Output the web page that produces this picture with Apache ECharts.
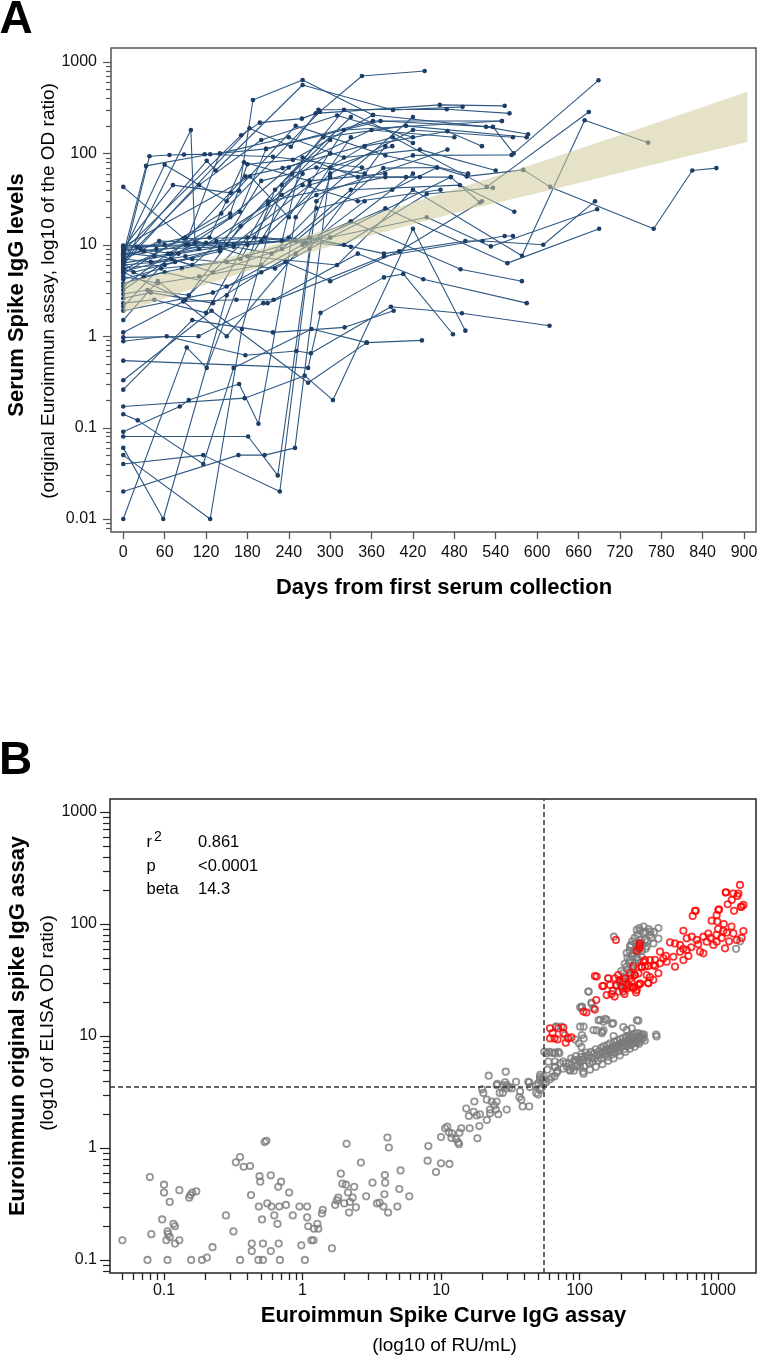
<!DOCTYPE html>
<html><head><meta charset="utf-8">
<script src="https://cdn.jsdelivr.net/npm/echarts@6/dist/echarts.min.js"></script>
<style>html,body{margin:0;padding:0;background:#fff}#c{width:758px;height:1361px}</style>
</head><body><div id="c"></div>
<script>
// ---------- Panel A data ----------
const dayTicks = [0,60,120,180,240,300,360,420,480,540,600,660,720,780,840,900];
const yTicksA = [0.01,0.1,1,10,100,1000];
const subjects = [
 [[0,43],[88,11.7],[205,12],[330,9.5]],
 [[0,7.8],[33,73],[126,98],[207,112],[362,226],[549,226]],
 [[0,6.6],[38,93],[67,96],[88,97],[118,98],[217,92],[346,70]],
 [[0,5.9],[98,180],[104,10.5],[180,10],[300,12],[475,55]],
 [[0,9.2],[72,45],[156,37],[168,39],[188,384],[260,636],[362,263]],
 [[0,7.2],[121,83],[134,65],[260,560],[391,298],[492,323]],
 [[0,4.8],[142,22],[285,286],[346,703],[437,796]],
 [[0,8.6],[171,158],[198,217],[259,240],[279,274],[459,339],[553,331]],
 [[0,6.1],[183,188],[243,118],[283,300],[469,304],[560,274]],
 [[0,5.3],[155,22],[180,76],[246,85],[362,263],[526,195],[587,162]],
 [[0,3.2],[169,23],[207,112],[373,226],[536,195],[566,100],[689,630]],
 [[0,2.1],[177,56],[231,69],[391,150],[527,43],[675,284]],
 [[0,9.6],[184,56],[240,20],[320,180],[549,226]],
 [[0,6.9],[52,11],[120,10.5],[250,11],[377,69],[455,70],[498,56],[580,66],[619,43],[769,15],[825,65],[860,69]],
 [[0,7.4],[95,10],[200,11],[300,60],[420,180],[565,150]],
 [[0,5.6],[60,6],[140,8.5],[290,150],[410,200],[585,150]],
 [[0,8.1],[45,7.5],[110,9],[230,35],[350,120],[470,175],[520,120]],
 [[0,6.3],[80,8],[160,10],[270,45],[420,95],[563,96]],
 [[0,7.7],[30,8.5],[100,6],[210,30],[380,55],[410,55],[475,55],[517,29]],
 [[0,5.1],[70,7],[130,5],[230,9],[330,40],[488,45],[567,23]],
 [[0,9.0],[20,9.5],[150,10],[240,12],[320,10],[440,36],[536,42]],
 [[0,4.2],[55,5.5],[150,6.5],[270,12],[378,8],[496,11],[521,11],[609,10],[684,30]],
 [[0,6.0],[100,7],[220,5.5],[300,12],[440,20],[533,9.6],[687,24.5]],
 [[0,8.4],[90,12],[180,7.5],[310,6],[420,40],[578,7.6],[669,230],[761,131]],
 [[0,3.8],[60,5],[150,3.5],[260,10],[380,25],[557,6.3],[690,15]],
 [[0,2.6],[40,3],[130,2.3],[200,5],[330,18],[489,5.4],[578,4.0]],
 [[0,1.1],[87,2.4],[164,2.5],[218,2.5],[340,8],[435,4.2],[585,2.3]],
 [[0,0.97],[109,1.0],[203,2.3],[209,2.3],[378,7.5],[553,12.5],[565,12.5]],
 [[0,0.88],[63,1.0],[177,0.62],[251,0.69],[272,0.65],[388,2.1],[491,1.78],[618,1.3]],
 [[0,0.54],[268,0.45],[286,1.8],[378,4.4],[406,4.8],[478,1.05]],
 [[0,0.33],[128,1.9],[268,0.31],[353,0.85],[433,0.9]],
 [[0,0.26],[100,1.5],[217,1.1],[321,1.25],[392,1.9]],
 [[0,0.17],[176,0.21],[263,0.37],[304,0.2],[420,15],[496,1.15]],
 [[0,0.14],[21,0.12],[116,0.04],[160,0.45],[273,1.2],[353,0.85]],
 [[0,0.09],[82,0.17],[95,0.2],[168,0.3],[196,0.11],[250,20],[330,150]],
 [[0,0.08],[181,0.08],[224,0.03],[270,9],[380,120]],
 [[0,0.06],[58,0.01],[150,2.8],[260,60]],
 [[0,0.05],[126,0.01],[172,1.2],[230,45],[300,100]],
 [[0,0.04],[116,0.05],[227,0.02],[280,30],[420,250]],
 [[0,0.02],[167,0.05],[205,0.05],[249,0.06],[300,70],[390,120]],
 [[0,0.01],[92,0.75],[121,0.45],[220,40],[330,250]],
 [[0,1.5],[50,4],[150,1.0],[250,8],[350,30]],
 [[0,8.8],[25,9],[70,8],[135,11],[190,12],[265,10.5],[300,55]],
 [[0,7.0],[40,6.5],[90,7.5],[160,9.5],[215,8],[330,18],[420,60]],
 [[0,6.5],[15,5],[75,6.5],[140,9],[200,50],[280,70],[350,60]],
 [[0,9.4],[60,10],[125,12],[175,80],[270,50],[380,60]],
 [[0,5.5],[30,4.5],[85,5.5],[170,7],[245,60],[320,300],[420,130]],
 [[0,4.5],[50,3.8],[110,4.5],[200,6],[280,25],[390,40],[455,70]],
 [[0,7.9],[48,9],[140,9.5],[230,11],[260,90],[340,55],[430,55]],
 [[0,2.9],[35,3.2],[95,2.8],[180,12],[280,35],[470,110]],
 [[0,8.2],[60,75],[150,30],[250,200],[380,95],[500,60]],
 [[0,6.7],[110,45],[200,140],[310,260],[420,150]],
 [[0,3.5],[65,8],[155,20],[240,70],[360,180],[480,150]],
 [[0,2.3],[45,2.5],[120,1.8],[210,28],[300,140]],
 [[0,9.8],[90,10],[140,100],[240,150],[320,90],[430,110],[540,65]],
 [[0,5.0],[90,2.5],[170,16],[260,45],[340,30],[460,40]],
 [[0,1.9],[130,3.0],[235,6.5],[300,4.0],[400,8.5],[520,30]]
];
const bandDay  = [0, 100, 200, 300, 400, 500, 600, 700, 800, 905];
const bandLow  = [1.80, 3.31, 5.75, 9.55, 15.3, 24.3, 36.7, 56.2, 86.1, 133];
const bandHigh = [3.85, 5.75, 9.12, 15.1, 26.0, 45.2, 78.5, 141, 254, 473];

// ---------- Panel B data ----------
const xTicksB = [0.1,1,10,100,1000];
const yTicksB = [0.1,1,10,100,1000];
const cutX = 55.5, cutY = 3.5;
const statNames = ['r','p','beta'];
const statValues = ['0.861','<0.0001','14.3'];
const grayPts = [
 [0.05,0.15],[0.076,0.1],[0.081,0.17],[0.079,0.55],[0.1,0.47],[0.1,0.4],[0.097,0.23],[0.106,0.1],[0.11,0.33],[0.106,0.18],[0.107,0.17],[0.11,0.16],[0.104,0.15],[0.117,0.21],[0.12,0.2],[0.12,0.14],[0.129,0.15],[0.129,0.42],[0.152,0.36],[0.155,0.38],[0.16,0.4],[0.171,0.41],[0.157,0.1],[0.188,0.1],[0.204,0.105],[0.224,0.13],[0.28,0.25],[0.317,0.18],[0.33,0.745],[0.354,0.83],[0.376,0.68],[0.418,0.69],[0.354,0.1],[0.425,0.38],[0.43,0.12],[0.43,0.14],[0.484,0.3],[0.489,0.56],[0.495,0.5],[0.51,0.23],[0.518,0.14],[0.48,0.1],[0.518,0.1],[0.533,1.13],[0.548,1.16],[0.557,0.32],[0.59,0.57],[0.597,0.3],[0.625,0.25],[0.59,0.12],[0.668,0.45],[0.7,0.5],[0.66,0.21],[0.673,0.14],[0.687,0.1],[0.679,0.3],[0.76,0.31],[0.8,0.4],[0.85,0.25],[0.95,0.3],[0.98,0.135],[1.04,0.1],[1.08,0.3],[1.08,0.24],[1.1,0.2],[1.16,0.15],[1.2,0.15],[1.21,0.19],[1.28,0.21],[1.3,0.19],[1.38,0.26],[1.4,0.28],
 [1.63,0.127],[1.72,0.31],[1.77,0.34],[1.89,0.59],[1.94,0.48],[1.81,0.36],[2.08,1.09],[2.06,0.47],[2.13,0.4],[2.0,0.32],[2.17,0.265],[2.2,0.33],[2.36,0.45],[2.3,0.36],[2.43,0.295],[2.64,0.74],[2.88,0.37],[3.2,0.49],[3.45,0.32],
 [3.6,0.325],[3.84,0.3],[3.9,0.386],[3.93,0.574],[3.95,0.49],[4.1,1.24],[4.2,1.01],[4.15,0.265],[4.84,0.3],[5.0,0.43],[5.1,0.63],[5.9,0.37],
 [8.0,0.77],[8.1,1.04],[9.2,0.61],[10,0.73],[11.5,0.72],[10,1.25],[10.7,1.5],[11.1,1.55],[11.4,1.38],[11.9,1.23],[12,1.35],[12.8,1.2],[13.3,1.12],[13.6,1.37],[14,1.5],[13.5,1.08],[16.1,1.5],[18.3,1.22],[18.9,1.57],
 [15.2,2.25],[15.9,1.93],[17.2,2.1],[17.4,2.6],[18.1,1.95],[19.1,2.0],[19.8,3.34],[20.2,3.1],[21.4,2.7],[21.4,1.78],[22.1,4.42],[22.6,2.2],[22.6,2.04],[23.2,2.6],[24.2,2.4],[24.9,2.2],[25.2,2.6],[25.9,2.0],[25.2,3.63],[25.5,3.73],[26.5,3.1],[27.9,3.1],[28.3,3.6],[29,3.86],[29.3,4.8],[29.5,3.4],[29.8,2.2],[29.9,3.65],[31.2,3.5],[32.4,3.4],[34.8,3.9],[36.8,2.85],[37.2,3.2],[38,2.7],[38.8,2.35],[42.6,3.9],[43.3,2.35],[43.3,3.85],[43.8,3.5],[48.3,3.6],[48.7,3.1],[50.3,3.78],[50.3,3.0],[51.8,4.3],[51.8,3.3],[51.9,4.1],[53.3,3.45],[54.8,4.3],[52,4.5],[54,4.05],[55,3.8],[57.2,3.85],[58,7.0],[58.6,5.0],[61.2,4.1],[62.9,4.3],[63,7.1],[66,4.35],[66.5,7.1],[70.3,7.2],[66.5,5.9],[72.3,5.7],[76.4,5.9],[80.8,5.3],[66.5,5.3],[85.5,5.0],[93,6.1],[104,6.5],[107,4.6],[68.4,4.7],
 [55.7,7.2],[60.5,7.2],[66,7.0],[71.5,7.0],[59.6,5.9],[66,5.3],[69.5,4.9],[76,5.1],[80,5.7],[85,4.9],[91,4.9],[95,5.4],[101,5.3],[107,12.1],[101,18],[122,19.5],[137,13.8],[153,14.2],[172,12.8],[133,11.2],[145,10.6],[176,10.0],[207,12],[219,11.3],[259,13.8],[360,9.9],[68,12.1],[74,12.1],[99,8.6],[103,8.0],[67.6,12.1],[78.5,10.2],[101,12.1],[104,10.2],[107,9.5],[93,9.3],[116,24.9],[104,18.3],[126,17.7],[141,13.9],[149,13.4],[157,13.9],[175,13],[266,13.7],[126,11.3],[145,10.9],[149,11.2],[238,11.7],[357,10.3],
 [84,5.7],[87,6.3],[89,5.2],[91,6.0],[94,6.6],[96,5.5],[99,6.2],[101,5.8],[103,6.9],[106,6.1],[108,5.4],[110,6.5],[111,7.1],[114,6.0],[116,6.8],[118,5.7],[121,7.2],[123,6.4],[124,5.9],[127,7.0],[129,6.3],[131,7.6],[134,6.7],[136,6.0],[138,7.3],[141,6.9],[143,7.8],[144,6.3],[147,7.1],[149,8.1],[151,6.7],[153,7.5],[156,7.0],[158,8.3],[159,6.5],[162,7.7],[164,7.2],[166,8.6],[169,7.4],[171,6.8],[173,8.0],[176,7.6],[178,8.9],[180,7.1],[183,8.2],[185,7.8],[187,9.1],[190,8.0],[192,7.3],[194,8.5],[197,9.4],[199,7.9],[202,8.7],[204,8.2],[207,9.6],[209,7.6],[212,8.9],[214,8.4],[217,9.8],[220,8.1],[222,9.2],[225,8.6],[227,10.1],[230,8.8],[232,9.5],[235,8.3],[237,9.9],[240,9.1],[243,10.3],[245,8.6],[248,9.6],[251,9.0],[253,10.5],[256,9.3],[259,8.7],[262,9.8],[264,10.6],[267,9.2],[270,10.0],[273,8.9],[276,9.7],[279,10.4],[282,9.4],[285,10.1],[289,9.6],[292,10.3],[296,9.1],[231,7.7],[214,7.2],[195,6.7],[176,6.3],[161,6.0],[146,5.6],[131,5.3],[119,5.0],[106,4.8],[250,8.0],[268,8.5],
 [177,77],[259,88.5],[274,87],[289,83],[323,80],[371,92],[371,74],[341,67],[305,63],[259,63],[245,55],[231,47.8],[219,41.7],[207,36.3],[225,38.9],[266,47.8],[281,51],[245,43],[219,55],[274,72],[297,72],[231,63],[207,31.7],[191,24.9],[161,32.7],[116,24.9],[122,19.9],[104,18],
 [240,70],[250,75],[262,80],[270,68],[285,65],[300,85],[315,90],[330,75],[345,85],[230,58],[238,52],[250,58],[258,50],[265,56],[228,45],[240,40],[212,44],[222,50],[235,35],[210,33],[200,38],[195,30],[215,28],[205,26],[185,28],[235,65],[255,68],[290,95],[310,70],[270,92],[282,58],[300,60],[252,45],[272,62],[325,86],
 [1349,60],[1442,70]
];
const redPts = [
 [61.2,11.7],[63.9,10.6],[61.2,9.5],[66,9.5],[69.5,9.3],[76.4,11.9],[79.5,8.7],[82.6,9.5],[87.3,9.7],[76.4,10.6],[70.3,11.7],
 [106.6,16.5],[112,16.2],[129,17.2],[132,20.9],[129,34.3],[146,27.9],[157,23.2],[170,23.7],[174,25.3],[179,22.5],[161,32.7],[185,28.5],[200,27.5],[211,23.7],[219,26.5],[238,30.5],[243,27.5],[256,24.5],[273,29.4],[281,41.6],[250,35],[313,29.8],[322,33.5],[341,43],[289,46],
 [1440,223],[1135,191],[1290,187],[1403,187],[1256,164],[1304,131],[1482,143],[1524,148],[682,131],[656,118],[1005,133],[977,120],[899,107],[988,105],[562,87],[450,68.5],[489,67],[594,74.5],[646,77],[702,72],[784,77],[828,69.5],[977,80],[1091,86.5],[1155,83.6],[1290,82.4],[1524,86.5],[1365,72],[1123,60.6],[925,65],[977,69.5],[741,56.6],[784,54.7],[594,58.6],[611,51.8],[532,56.6],[532,65],[476,51],[381,56.6],[403,49.3],[426,46],[489,41.6],[562,47.6],[381,44.5],[351,42.1],[314,42.1],[323,47.6],[297,47.6],[273,67],[270,60.6],[259,57.8],[281,41],[245,41.6],[266,36.2],[231,36.2],[213,32.7],[305,35],[314,29.5],[266,28.5],[231,27.5],[245,26.6],[190,35],[194,31.6],[180,32.7],[166,28.5],[133,33.9],[149,27.9],[183,72],[270,64],
 [1142,192],[1175,150],[1380,178],[1460,142],[690,131],[1016,135],[205,30.6],[225,28.6],[234,32.7],[251,35],[259,25.8],[207,24.9],[274,29.2],[341,31.7],[371,36.3],[297,41.7],[351,47.8],[1200,70],[1060,75],[850,82],[640,62],[720,66],[880,75],[1000,90],[560,60],[420,52],[1250,95],[1480,75],[1100,100]
];

// ---------- helpers ----------
const FONT = '"Liberation Sans", Arial, Helvetica, sans-serif';
function minors(decades, lo, hi) {
  const out = [];
  decades.forEach(d => [2,3,4,5,6,7,8,9].forEach(k => { const v = +(k*d).toPrecision(3); if (v > lo && v < hi) out.push(v); }));
  return out;
}
const fmt = v => String(+(+v).toPrecision(6));
const byVal = (a,b) => a - b;

const xMinA = -17.8, xMaxA = 917.4;
const yMinA = 0.00721, yMaxA = 1422;
const xMinB = 0.04074, xMaxB = 1879;
const yMinB = 0.0765, yMaxB = 1306;
const minorYA = minors([0.001,0.01,0.1,1,10,100,1000], yMinA, yMaxA);
const minorYB = minors([0.01,0.1,1,10,100,1000], yMinB, yMaxB);
const allXB = xTicksB.concat(minors([0.01,0.1,1,10,100,1000], xMinB, xMaxB)).sort(byVal);

const colA = '#555555', colB = '#222222';
const labelStyle = {fontSize:16, color:'#111', fontFamily:FONT};

const chart = echarts.init(document.getElementById('c'), null, {renderer:'canvas'});

const seriesA = subjects.map(s => ({
  type:'line', xAxisIndex:0, yAxisIndex:0, data:s,
  symbol:'circle', symbolSize:4.6, showSymbol:true,
  lineStyle:{color:'#2f5883', width:1.1},
  itemStyle:{color:'#1c3d66'},
  emphasis:{disabled:true}, silent:true, animation:false, z:2
}));

const bandSeries = {
  type:'custom', xAxisIndex:0, yAxisIndex:0, silent:true, animation:false, z:3,
  data: bandDay.map((d,i) => [d, bandLow[i], bandHigh[i]]),
  encode:{x:0, y:[1,2]},
  renderItem: (params, api) => {
    if (params.dataIndex !== 0) return null;
    const pts = [];
    for (let i = 0; i < bandDay.length; i++) pts.push(api.coord([bandDay[i], bandHigh[i]]));
    for (let i = bandDay.length - 1; i >= 0; i--) pts.push(api.coord([bandDay[i], bandLow[i]]));
    return {type:'polygon', shape:{points:pts}, style:{fill:'rgba(209,202,155,0.55)'}};
  }
};

// y-axis tick marks (major + minor) placed through the axis scale, drawn outside the frame
function yTickSeries(xi, yi, xEdge, majors, minorsList, majLen, minLen, color) {
  const data = majors.map(v => [xEdge, v, 1]).concat(minorsList.map(v => [xEdge, v, 0]));
  return {
    type:'custom', xAxisIndex:xi, yAxisIndex:yi, silent:true, animation:false, clip:false, z:10,
    data:data, encode:{x:0, y:1},
    renderItem: (params, api) => {
      const p = api.coord([api.value(0), api.value(1)]);
      const len = api.value(2) ? majLen : minLen;
      const y = Math.round(p[1]) + 0.5;
      return {type:'line', shape:{x1:p[0] - len, y1:y, x2:p[0], y2:y}, style:{stroke:color, lineWidth:1.2}};
    }
  };
}

const graySeries = {
  type:'scatter', xAxisIndex:1, yAxisIndex:1, data:grayPts,
  symbol:'circle', symbolSize:6.4,
  itemStyle:{color:'rgba(0,0,0,0)', borderColor:'#7b7b7b', borderWidth:1.8},
  emphasis:{disabled:true}, silent:true, animation:false, z:3,
  markLine:{
    silent:true, symbol:'none', animation:false,
    label:{show:false}, emphasis:{disabled:true},
    lineStyle:{color:'#333', type:[5,3], width:1.5},
    data:[{xAxis:cutX},{yAxis:cutY}]
  }
};
const redSeries = {
  type:'scatter', xAxisIndex:1, yAxisIndex:1, data:redPts,
  symbol:'circle', symbolSize:6.4,
  itemStyle:{color:'rgba(0,0,0,0)', borderColor:'#ff0000', borderWidth:1.8},
  emphasis:{disabled:true}, silent:true, animation:false, z:4
};

function txt(text, x, y, opts) {
  return Object.assign({type:'text', x:x, y:y, silent:true, z:100,
    style:Object.assign({text:text, fill:'#000', font:'16px '+FONT, textAlign:'left', textVerticalAlign:'middle'}, opts && opts.style || {})},
    opts && opts.rotation !== undefined ? {rotation:opts.rotation} : {});
}

const graphics = [
  txt('A', -0.5, 20, {style:{font:'bold 46px '+FONT}}),
  txt('B', -1, 761, {style:{font:'bold 46px '+FONT}}),
  txt('Serum Spike IgG levels', 17.4, 295, {rotation:Math.PI/2, style:{font:'bold 22px '+FONT, textAlign:'center'}}),
  txt('(original Euroimmun assay, log10 of the OD ratio)', 48.4, 291, {rotation:Math.PI/2, style:{font:'19px '+FONT, textAlign:'center'}}),
  txt('Days from first serum collection', 444, 588, {style:{font:'bold 22px '+FONT, textAlign:'center'}}),
  txt('Euroimmun original spike IgG assay', 18.4, 1026, {rotation:Math.PI/2, style:{font:'bold 22px '+FONT, textAlign:'center'}}),
  txt('(log10 of ELISA OD ratio)', 47.4, 1023, {rotation:Math.PI/2, style:{font:'19px '+FONT, textAlign:'center'}}),
  txt('Euroimmun Spike Curve IgG assay', 443.5, 1316, {style:{font:'bold 22px '+FONT, textAlign:'center'}}),
  txt('(log10 of RU/mL)', 444.5, 1346, {style:{font:'19px '+FONT, textAlign:'center'}}),
  txt('2', 154, 837.5, {style:{font:'14px '+FONT}})
];
const statMid = [842.6, 866, 889.3];
statNames.forEach((n,i) => {
  graphics.push(txt(n, 146.5, statMid[i], {style:{font:'16.5px '+FONT}}));
  graphics.push(txt(statValues[i], 198, statMid[i], {style:{font:'16.5px '+FONT}}));
});

const option = {
  animation:false,
  backgroundColor:'#fff',
  grid:[
    {left:111, top:48, width:645, height:484, show:true, borderColor:colA, borderWidth:1.5, outerBoundsMode:'none'},
    {left:110, top:799, width:646, height:474, show:true, borderColor:colB, borderWidth:1.5, outerBoundsMode:'none'}
  ],
  xAxis:[
    {gridIndex:0, type:'value', min:xMinA, max:xMaxA, position:'bottom',
     axisLine:{show:false, onZero:false}, splitLine:{show:false},
     axisTick:{show:true, customValues:dayTicks, length:7, lineStyle:{color:colA, width:1.3}},
     axisLabel:Object.assign({customValues:dayTicks, margin:13, formatter:fmt}, labelStyle)},
    {gridIndex:1, type:'log', min:xMinB, max:xMaxB, position:'bottom',
     axisLine:{show:false, onZero:false}, splitLine:{show:false}, minorTick:{show:false},
     axisTick:{show:true, customValues:allXB, length:7, lineStyle:{color:colB, width:1.3}},
     axisLabel:Object.assign({customValues:xTicksB, margin:10, formatter:fmt}, labelStyle)}
  ],
  yAxis:[
    {gridIndex:0, type:'log', min:yMinA, max:yMaxA, position:'left',
     axisLine:{show:false, onZero:false}, splitLine:{show:false},
     axisTick:{show:false},
     axisLabel:Object.assign({customValues:yTicksA, margin:14, formatter:fmt}, labelStyle)},
    {gridIndex:1, type:'log', min:yMinB, max:yMaxB, position:'left',
     axisLine:{show:false, onZero:false}, splitLine:{show:false},
     axisTick:{show:false},
     axisLabel:Object.assign({customValues:yTicksB, margin:13, formatter:fmt}, labelStyle)}
  ],
  series: seriesA.concat([
    bandSeries, graySeries, redSeries,
    yTickSeries(0, 0, xMinA, yTicksA, minorYA, 8, 5, colA),
    yTickSeries(1, 1, xMinB, yTicksB, minorYB, 10, 7, colB)
  ]),
  graphic: graphics
};
chart.setOption(option);
</script>
</body></html>
